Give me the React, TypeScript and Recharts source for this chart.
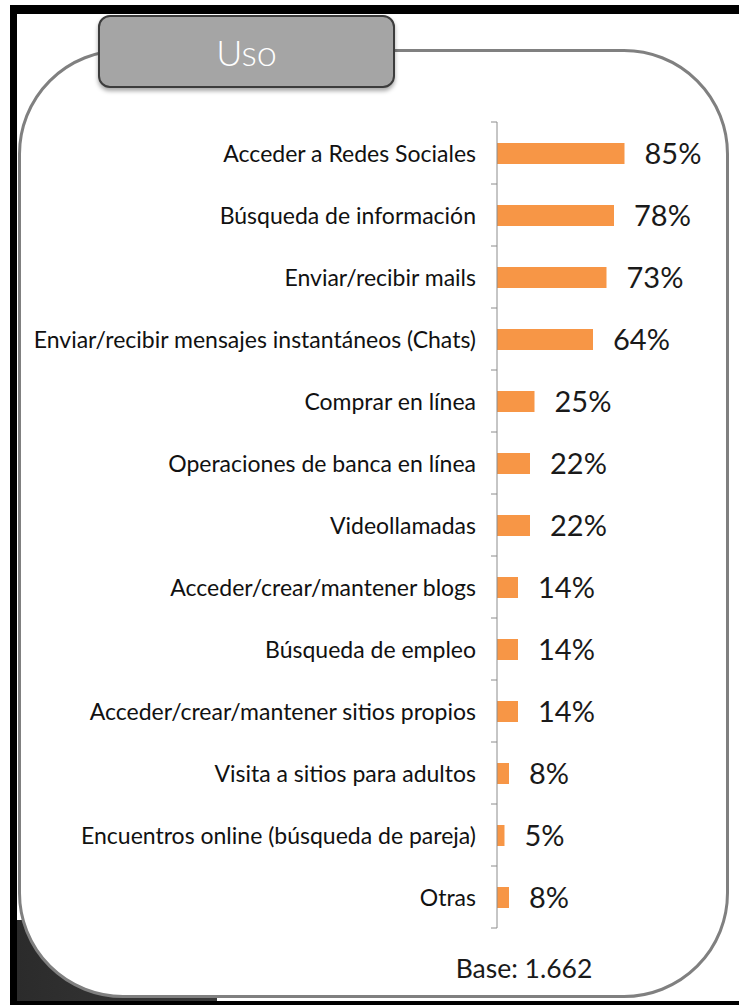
import React from "react";
import { BarChart, Bar, XAxis, YAxis, LabelList } from "recharts";

const categories = [
  "Acceder a Redes Sociales",
  "Búsqueda de información",
  "Enviar/recibir mails",
  "Enviar/recibir mensajes instantáneos (Chats)",
  "Comprar en línea",
  "Operaciones de banca en línea",
  "Videollamadas",
  "Acceder/crear/mantener blogs",
  "Búsqueda de empleo",
  "Acceder/crear/mantener sitios propios",
  "Visita a sitios para adultos",
  "Encuentros online (búsqueda de pareja)",
  "Otras",
];
const values = [85, 78, 73, 64, 25, 22, 22, 14, 14, 14, 8, 5, 8];
const title = "Uso";
const baseNote = "Base: 1.662";

const data = categories.map((c, i) => ({ name: c, value: values[i] }));

const W = 739;
const H = 1005;
const M_TOP = 122;
const M_BOTTOM = 77;
const PLOT_H = H - M_TOP - M_BOTTOM;
const BAND = PLOT_H / categories.length;
const FONT = "Lato, 'Open Sans', sans-serif";

const CatTick = (props: any) => {
  const { x, y, payload, index } = props;
  return (
    <g>
      <text
        x={x - 21}
        y={y}
        textAnchor="end"
        dominantBaseline="central"
        fontSize={23}
        fontFamily={FONT}
        fill="#111"
      >
        {payload.value}
      </text>
      <line x1={x - 6} x2={x} y1={y + BAND / 2} y2={y + BAND / 2} stroke="#8c8c8c" strokeWidth={1} />
      {index === 0 && (
        <line x1={x - 6} x2={x} y1={y - BAND / 2} y2={y - BAND / 2} stroke="#8c8c8c" strokeWidth={1} />
      )}
    </g>
  );
};

export default function App() {
  return (
    <div
      style={{
        position: "absolute",
        left: 0,
        top: 0,
        width: W,
        height: H,
        background: "#ffffff",
        overflow: "hidden",
      }}
    >
      {/* black frame */}
      <div style={{ position: "absolute", left: 10, top: 5, width: W - 10, height: 9, background: "#000" }} />
      <div style={{ position: "absolute", left: 10, top: 5, width: 7, height: H - 5, background: "#000" }} />
      <div style={{ position: "absolute", left: 10, top: 1001, width: W - 10, height: 4, background: "#000" }} />
      {/* dark corner shading */}
      <div
        style={{
          position: "absolute",
          left: 17,
          top: 920,
          width: 200,
          height: 81,
          background: "linear-gradient(90deg, #2b2b2b, #3a3a3a)",
        }}
      />
      {/* rounded box */}
      <div
        style={{
          position: "absolute",
          left: 18,
          top: 49,
          width: 729 - 18,
          height: 998 - 49,
          boxSizing: "border-box",
          border: "3px solid #808080",
          borderRadius: 105,
          background: "#fff",
        }}
      />
      {/* title tab */}
      <div
        style={{
          position: "absolute",
          left: 98,
          top: 15,
          width: 297,
          height: 73,
          boxSizing: "border-box",
          border: "2px solid #3c3c3c",
          borderRadius: 12,
          background: "#a5a5a5",
          boxShadow: "0 3px 4px rgba(0,0,0,0.35)",
          color: "#fff",
          fontFamily: FONT,
          fontWeight: 300,
          fontSize: 36,
          display: "flex",
          alignItems: "center",
          justifyContent: "center",
        }}
      >
        {title}
      </div>
      <div style={{ position: "absolute", left: 0, top: 0 }}>
        <BarChart
          width={W}
          height={H}
          data={data}
          layout="vertical"
          margin={{ top: M_TOP, bottom: M_BOTTOM, left: 0, right: W - 497 - 150 }}
          barSize={21}
        >
          <XAxis type="number" domain={[0, 100]} hide />
          <YAxis
            type="category"
            dataKey="name"
            width={497}
            tickLine={false}
            tickSize={0}
            tickMargin={0}
            axisLine={{ stroke: "#8c8c8c", strokeWidth: 1 }}
            tick={<CatTick />}
            interval={0}
          />
          <Bar dataKey="value" fill="#f79646" isAnimationActive={false}>
            <LabelList
              dataKey="value"
              position="right"
              offset={20}
              formatter={(v: any) => `${v}%`}
              style={{ fontSize: 29, fontFamily: FONT, fill: "#1a1a1a" }}
            />
          </Bar>
        </BarChart>
      </div>
      <div
        style={{
          position: "absolute",
          left: 444,
          top: 952,
          width: 160,
          textAlign: "center",
          fontFamily: FONT,
          fontSize: 26.5,
          color: "#1a1a1a",
        }}
      >
        {baseNote}
      </div>
    </div>
  );
}
